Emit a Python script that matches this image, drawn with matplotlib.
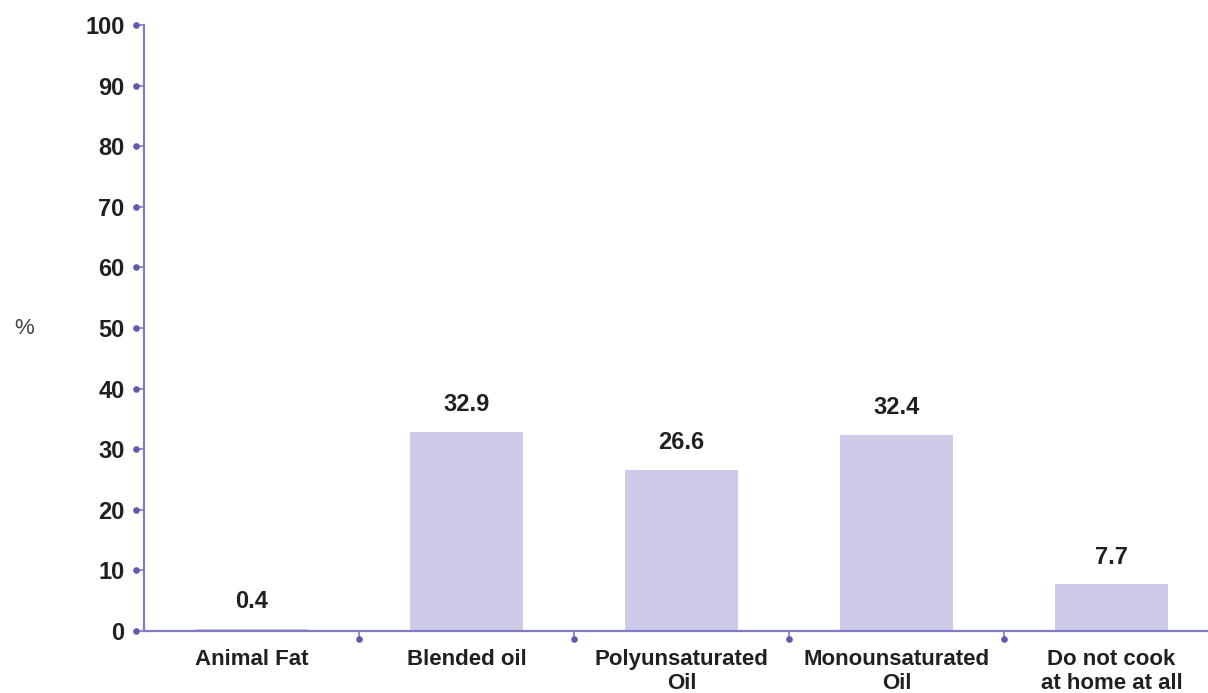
import matplotlib
matplotlib.use("Agg")
import matplotlib.pyplot as plt
import matplotlib.transforms as mtransforms
import numpy as np

categories = ["Animal Fat", "Blended oil", "Polyunsaturated\nOil",
              "Monounsaturated\nOil", "Do not cook\nat home at all"]
values = [0.4, 32.9, 26.6, 32.4, 7.7]
y_ticks = list(range(0, 101, 10))

BAR = "#CDCBE7"
AXIS = "#7F7CC2"
DOT = "#5E5AAE"
TEXT = "#231F20"

plt.rcParams["font.family"] = ["Liberation Sans", "DejaVu Sans"]

fig = plt.figure(figsize=(12.08, 6.93), dpi=100)
ax = fig.add_axes([144 / 1208, 1 - 631 / 693, 1075 / 1208, (631 - 25) / 693])

x = np.arange(len(categories))
ax.bar(x, values, width=0.53, color=BAR, zorder=2)

for xi, v in zip(x, values):
    ax.annotate(f"{v:.1f}", (xi, v), xytext=(0, 19.5), textcoords="offset points",
                ha="center", va="center", fontsize=17, fontweight="bold", color=TEXT)

ax.set_xlim(-0.5, len(categories) - 0.5)
ax.set_ylim(0, 100)

for s in ["top", "right"]:
    ax.spines[s].set_visible(False)
for s in ["left", "bottom"]:
    ax.spines[s].set_color(AXIS)
    ax.spines[s].set_linewidth(1.6)

ax.set_yticks(y_ticks)
ax.set_yticklabels([str(t) for t in y_ticks], fontsize=17, fontweight="bold", color=TEXT)
ax.tick_params(axis="y", length=6, width=1.2, color=AXIS, pad=8)

# category boundaries carry the x tick marks
bounds = np.arange(0.5, len(categories) - 0.5, 1.0)
ax.set_xticks(bounds)
ax.set_xticklabels([])
ax.tick_params(axis="x", length=6, width=1.2, color=AXIS)
ax.set_xticks(x, minor=True)
ax.set_xticklabels(categories, minor=True, fontsize=16, fontweight="bold",
                   color=TEXT, linespacing=1.2)
ax.tick_params(axis="x", which="minor", length=0, pad=13)

# round dots at the ends of the tick marks
ytr = mtransforms.blended_transform_factory(ax.transAxes, ax.transData)
off_y = mtransforms.ScaledTranslation(-6 / 72, 0, fig.dpi_scale_trans)
ax.scatter(np.zeros(len(y_ticks)), y_ticks, s=14, color=DOT, clip_on=False,
           transform=ytr + off_y, zorder=5)
xtr = mtransforms.blended_transform_factory(ax.transData, ax.transAxes)
off_x = mtransforms.ScaledTranslation(0, -6 / 72, fig.dpi_scale_trans)
ax.scatter(bounds, np.zeros(len(bounds)), s=14, color=DOT, clip_on=False,
           transform=xtr + off_x, zorder=5)

fig.text(24 / 1208, 1 - 328 / 693, "%", fontsize=16, color="#444444",
         ha="center", va="center")

fig.savefig("out.png", dpi=100)
